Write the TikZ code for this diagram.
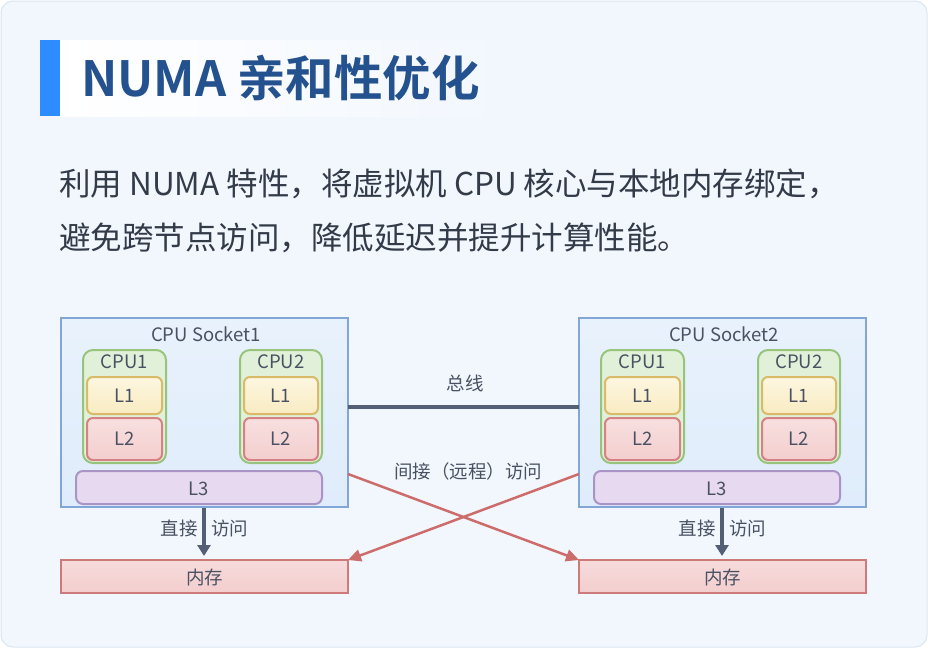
\documentclass[tikz,border=0pt]{standalone}
\usepackage{fontspec}
\setmainfont{Noto Sans CJK SC}[BoldFont={Noto Sans CJK SC Bold}]
\usetikzlibrary{arrows.meta}
\definecolor{cardbg}{HTML}{F2F7FE}
\definecolor{cardline}{HTML}{DCE6F2}
\definecolor{accent}{HTML}{2D8CFF}
\definecolor{titlec}{HTML}{24528F}
\definecolor{bodyc}{HTML}{333A48}
\definecolor{labc}{HTML}{4A5163}
\definecolor{sockfill}{HTML}{DFECFB}
\definecolor{sockline}{HTML}{82A6D6}
\definecolor{cpufill}{HTML}{E1F1D9}
\definecolor{cpuline}{HTML}{98C37C}
\definecolor{lonefill}{HTML}{FCF1CC}
\definecolor{loneline}{HTML}{D9BA68}
\definecolor{ltwofill}{HTML}{F5D2D2}
\definecolor{ltwoline}{HTML}{D58282}
\definecolor{lthreefill}{HTML}{E7DAF0}
\definecolor{lthreeline}{HTML}{AA94C6}
\definecolor{memfill}{HTML}{F5D2D2}
\definecolor{memline}{HTML}{CF7A7A}
\definecolor{busc}{HTML}{545E75}
\definecolor{redc}{HTML}{CD6D6B}
\tikzset{
  lab/.style={text=labc,font=\fontsize{18.5}{22}\selectfont,inner sep=0pt},
  sockbox/.style={draw=sockline,line width=2pt,top color=sockfill!70!white,bottom color=sockfill},
  cpubox/.style={draw=cpuline,line width=2pt,fill=cpufill,rounded corners=10pt},
  lonebox/.style={draw=loneline,line width=2pt,top color=lonefill!60!white,bottom color=lonefill!90!loneline,rounded corners=6pt},
  ltwobox/.style={draw=ltwoline,line width=2pt,top color=ltwofill!70!white,bottom color=ltwofill!95!ltwoline,rounded corners=6pt},
  lthreebox/.style={draw=lthreeline,line width=2pt,fill=lthreefill,rounded corners=7pt},
  membox/.style={draw=memline,line width=2pt,top color=memfill!80!white,bottom color=memfill!95!memline},
  busline/.style={draw=busc,line width=3.5pt},
  remote/.style={draw=redc,line width=2.5pt,-{Triangle[length=13pt,width=12pt]}},
  direct/.style={draw=busc,line width=3.5pt,-{Triangle[length=11pt,width=13pt]}},
}
\begin{document}
\begin{tikzpicture}[x=1pt,y=-1pt]
\useasboundingbox (0,0) rectangle (928,648);
\fill[white] (0,0) rectangle (928,648);
\draw[cardline,fill=cardbg,line width=1pt,rounded corners=12pt] (1,1) rectangle (927,647);
% title
\shade[left color=white,right color=cardbg] (60,40) rectangle (500,116);
\fill[accent] (40,40) rectangle (60,116);
\node[anchor=west,text=titlec,font=\fontsize{48.5}{54}\selectfont\bfseries,inner sep=0pt] (title) at (81,78) {NUMA 亲和性优化};
% body
\node[anchor=west,text=bodyc,font=\fontsize{31.5}{38}\selectfont,inner sep=0pt] (line1) at (59,184) {利用 NUMA 特性，将虚拟机 CPU 核心与本地内存绑定，};
\node[anchor=west,text=bodyc,font=\fontsize{31.5}{38}\selectfont,inner sep=0pt] (line2) at (59,238) {避免跨节点访问，降低延迟并提升计算性能。};
% sockets
\foreach \n/\dx in {1/0,2/518}{
  \begin{scope}[xshift=\dx pt]
  \path[sockbox] (61,318) rectangle (348,507);
  \node[lab] (stitle\n) at (206,334) {CPU Socket\n};
  \path[cpubox] (83,350) rectangle (166,463);
  \node[lab] (cpua\n) at (124.5,362) {CPU1};
  \path[lonebox] (87,377) rectangle (162,414);
  \node[lab] (lonea\n) at (124.5,395.5) {L1};
  \path[ltwobox] (87,418) rectangle (162,460);
  \node[lab] (ltwoa\n) at (124.5,439) {L2};
  \path[cpubox] (240,350) rectangle (322,463);
  \node[lab] (cpub\n) at (281,362) {CPU2};
  \path[lonebox] (244,377) rectangle (318,414);
  \node[lab] (loneb\n) at (281,395.5) {L1};
  \path[ltwobox] (244,418) rectangle (318,460);
  \node[lab] (ltwob\n) at (281,439) {L2};
  \path[lthreebox] (76,471) rectangle (322,504);
  \node[lab] (lthree\n) at (199,489) {L3};
  \path[membox] (61,560) rectangle (348,593);
  \node[lab] (mem\n) at (204.5,577) {内存};
  \coordinate (dtop\n) at (204,508);
  \coordinate (dbot\n) at (204,556);
  \node[lab,anchor=east] (dl\n) at (198,528) {直接};
  \node[lab,anchor=west] (dr\n) at (211,528) {访问};
  \end{scope}
}
\draw[direct] (dtop1) -- (dbot1);
\draw[direct] (dtop2) -- (dbot2);
% bus
\coordinate (busa) at (348,407);
\coordinate (busb) at (579,407);
\draw[busline] (busa) -- (busb);
\node[lab] (buslab) at (465,383) {总线};
% remote
\coordinate (ra) at (348,474);
\coordinate (rb) at (579,474);
\coordinate (ma) at (348,560);
\coordinate (mb) at (579,560);
\draw[remote] (ra) -- (mb);
\draw[remote] (rb) -- (ma);
\node[lab] (remlab) at (468,471) {间接（远程）访问};
\end{tikzpicture}
\end{document}
